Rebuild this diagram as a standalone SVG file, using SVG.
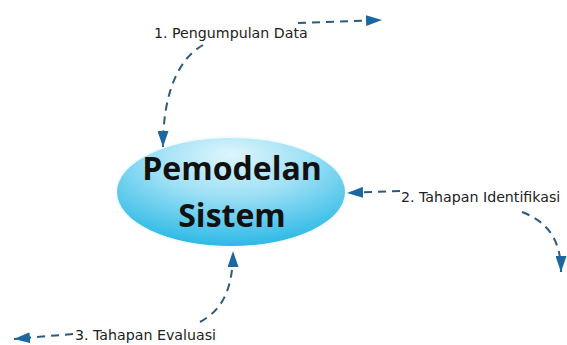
<svg xmlns="http://www.w3.org/2000/svg" width="567" height="345" viewBox="0 0 567 345">
  <style>
    .conn { fill: none; stroke: #2d5a7d; stroke-width: 2; stroke-dasharray: 8 6; }
    .lbl { font-family: "DejaVu Sans", "Liberation Sans", sans-serif; font-size: 14.2px; fill: #222; }
    .title { font-family: "Open Sans", "Liberation Sans", sans-serif; font-weight: bold; font-size: 32px; fill: #111; text-anchor: middle; }
  </style>
  <defs>
    <radialGradient id="ellGrad" cx="50%" cy="25%" r="75%" fx="50%" fy="15%">
      <stop offset="0" stop-color="#dff5fc"/>
      <stop offset="0.45" stop-color="#9fe0f5"/>
      <stop offset="1" stop-color="#2cb9e6"/>
    </radialGradient>
    <marker id="arrow" viewBox="0 0 16 11" refX="16" refY="5.5" markerWidth="16" markerHeight="11" markerUnits="userSpaceOnUse" orient="auto">
      <path d="M0,0 L16,5.5 L0,11 z" fill="#1d67a0"/>
    </marker>
  </defs>
  <rect width="567" height="345" fill="#ffffff"/>

  <g id="node-pemodelan-sistem">
    <ellipse cx="231" cy="192" rx="116" ry="56" fill="#eaf8fd" opacity="0.6"/>
    <ellipse cx="231" cy="192" rx="114" ry="54" fill="url(#ellGrad)"/>
    <text class="title" x="232" y="180">Pemodelan</text>
    <text class="title" x="232" y="227">Sistem</text>
  </g>

  <g id="label-1">
    <text class="lbl" x="154" y="38">1. Pengumpulan Data</text>
  </g>
  <g id="label-2">
    <text class="lbl" x="401" y="202">2. Tahapan Identifikasi</text>
  </g>
  <g id="label-3">
    <text class="lbl" x="75" y="340">3. Tahapan Evaluasi</text>
  </g>

  <g id="connectors">
    <path class="conn" d="M203,45 C180,58 163,90 163,147" marker-end="url(#arrow)"/>
    <path class="conn" d="M298,23 L382,20" marker-end="url(#arrow)"/>
    <path class="conn" d="M400,191 L347,193" marker-end="url(#arrow)"/>
    <path class="conn" d="M522,212 C548,222 561,240 561,272" marker-end="url(#arrow)"/>
    <path class="conn" d="M200,322 C222,310 233,290 233,251" marker-end="url(#arrow)"/>
    <path class="conn" d="M73,334 L14,339" marker-end="url(#arrow)"/>
  </g>
</svg>
